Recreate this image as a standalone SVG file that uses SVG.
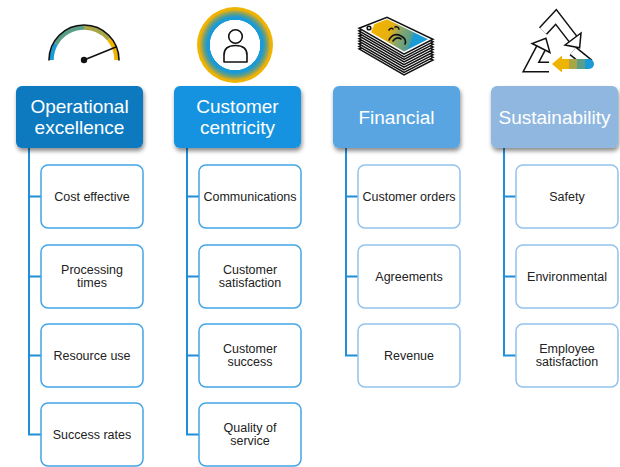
<svg xmlns="http://www.w3.org/2000/svg" width="620" height="467" viewBox="0 0 620 467">
  <defs>
    <style>
      .hdr { stroke: none; filter: url(#shadow); }
      .hdr-text { font-family: "Liberation Sans", Arial, sans-serif; font-size: 19px; fill: #ffffff; text-anchor: middle; }
      .box { fill: #ffffff; stroke-width: 1.5; }
      .box-a { stroke: #43a4e6; }
      .box-b { stroke: #93c2ec; }
      .box-text { font-family: "Liberation Sans", Arial, sans-serif; font-size: 12.5px; fill: #222222; text-anchor: middle; }
      .conn { fill: none; stroke: #1f8fd8; stroke-width: 2; }
      .ink { fill: none; stroke: #111111; stroke-width: 1.6; stroke-linejoin: round; stroke-linecap: round; }
      .band-out { fill: none; stroke: #111111; stroke-width: 11; stroke-linejoin: miter; }
      .band-in { fill: none; stroke: #ffffff; stroke-width: 8; stroke-linejoin: miter; }
      .head { fill: #ffffff; stroke: #111111; stroke-width: 1.5; stroke-linejoin: miter; }
    </style>
    <filter id="shadow" x="-10%" y="-10%" width="125%" height="135%">
      <feDropShadow dx="1" dy="3" stdDeviation="2" flood-color="#000000" flood-opacity="0.45"/>
    </filter>
    <radialGradient id="ringGrad" cx="0.5" cy="0.5" r="0.5">
      <stop offset="0" stop-color="#ffffff"/>
      <stop offset="0.655" stop-color="#ffffff"/>
      <stop offset="0.67" stop-color="#1a9ad6"/>
      <stop offset="0.73" stop-color="#1a9ad6"/>
      <stop offset="0.81" stop-color="#5a9e8a"/>
      <stop offset="0.88" stop-color="#a9a64a"/>
      <stop offset="0.94" stop-color="#f0b400"/>
      <stop offset="1" stop-color="#f0b400"/>
    </radialGradient>
    <linearGradient id="billGrad" gradientUnits="userSpaceOnUse" x1="364" y1="22" x2="428" y2="46">
      <stop offset="0" stop-color="#ffffff"/>
      <stop offset="0.14" stop-color="#ffffff"/>
      <stop offset="0.16" stop-color="#f0b400"/>
      <stop offset="0.4" stop-color="#e8b010"/>
      <stop offset="0.55" stop-color="#8aa66a"/>
      <stop offset="0.72" stop-color="#5a9e8a"/>
      <stop offset="0.76" stop-color="#1a9ad6"/>
      <stop offset="1" stop-color="#1a9ad6"/>
    </linearGradient>
  </defs>

  <rect width="620" height="467" fill="#ffffff"/>

  <!-- icon: speedometer -->
  <g id="icon-gauge">
    <path d="M51.5,60 A32.5,32.5 0 0 1 55.85,43.75" fill="none" stroke="#1a9ad6" stroke-width="4.5"/>
    <path d="M55.85,43.75 A32.5,32.5 0 0 1 84,27.5" fill="none" stroke="#5a9e8a" stroke-width="4.5"/>
    <path d="M84,27.5 A32.5,32.5 0 0 1 108.9,39.1" fill="none" stroke="#a9a64a" stroke-width="4.5"/>
    <path d="M108.9,39.1 A32.5,32.5 0 0 1 116.5,60" fill="none" stroke="#f0b400" stroke-width="4.5"/>
    <path d="M49,60 A35,35 0 0 1 119,60" class="ink"/>
    <line x1="84" y1="60" x2="116" y2="47" class="ink"/>
    <circle cx="84" cy="60" r="3.2" fill="#111111"/>
  </g>

  <!-- icon: customer -->
  <g id="icon-customer">
    <circle cx="235" cy="45" r="38" fill="url(#ringGrad)"/>
    <circle cx="235.5" cy="36.5" r="6.8" class="ink"/>
    <path d="M224,62 L224,55 Q224,45.5 235.5,45.5 Q247,45.5 247,55 L247,62 Z" class="ink"/>
  </g>

  <!-- icon: banknote stack -->
  <g id="icon-money">
    <path d="M359,49 L387,38 L433,60 L404,75 Z" class="head"/>
    <path d="M359,46.4 L387,35.4 L433,57.4 L404,72.4 Z" class="head"/>
    <path d="M359,43.8 L387,32.8 L433,54.8 L404,69.8 Z" class="head"/>
    <path d="M359,41.2 L387,30.2 L433,52.2 L404,67.2 Z" class="head"/>
    <path d="M359,38.6 L387,27.6 L433,49.6 L404,64.6 Z" class="head"/>
    <path d="M359,36 L387,25 L433,47 L404,62 Z" class="head"/>
    <path d="M359,33.4 L387,22.4 L433,44.4 L404,59.4 Z" class="head"/>
    <path d="M359,30.8 L387,19.8 L433,41.8 L404,56.8 Z" class="head"/>
    <path d="M359,28.2 L387,17.2 L433,39.2 L404,54.2 Z" class="head"/>
    <path d="M364,28.3 L387,19.3 L428,39.2 L404,51.5 Z" fill="url(#billGrad)"/>
    <circle cx="369" cy="28" r="1.8" class="ink" stroke-width="1.2"/>
    <path d="M389,30 q2,-3 4,-1 M395,27 q3,-1 4,2" class="ink" stroke-width="1.2"/>
    <path d="M389,40 q4,-8 12,-4 q6,3 4,8" class="ink" stroke-width="1.3"/>
    <path d="M393,41 q3,-5 8,-2" class="ink" stroke-width="1.2"/>
  </g>

  <!-- icon: recycling -->
  <g id="icon-recycle">
    <!-- top arrow -->
    <path d="M543,31 L556,17 L573,39" class="band-out"/>
    <path d="M543,31 L556,17 L573,39" class="band-in"/>
    <polygon points="581,33 565,45 579.6,47.8" class="head"/>
    <!-- right leg -->
    <path d="M573,51 L589,64" class="band-out"/>
    <path d="M573,51 L589,64" class="band-in"/>
    <!-- left arrow -->
    <path d="M549,67 L531,67 L541,48" class="band-out"/>
    <path d="M549,67 L531,67 L541,48" class="band-in"/>
    <polygon points="549.9,52.5 532.1,43.5 545.9,38.2" class="head"/>
    <!-- bottom coloured arrow -->
    <rect x="560" y="59" width="9" height="10" fill="#f0b400"/>
    <rect x="569" y="59" width="8" height="10" fill="#a9a64a"/>
    <rect x="577" y="59" width="8" height="10" fill="#5a9e8a"/>
    <path d="M585,59 L589,59 A5,5 0 0 1 589,69 L585,69 Z" fill="#1a9ad6"/>
    <polygon points="562,55.5 562,72.5 552,64" fill="#f0b400"/>
  </g>

  <!-- connectors -->
  <g id="connectors" class="conn">
    <path d="M29,148 V434.5 H41 M29,196.5 H41 M29,276.5 H41 M29,355.5 H41"/>
    <path d="M187,148 V434.5 H199 M187,196.5 H199 M187,276.5 H199 M187,355.5 H199"/>
    <path d="M346,148 V355.5 H358 M346,196.5 H358 M346,276.5 H358"/>
    <path d="M504,148 V355.5 H516 M504,196.5 H516 M504,276.5 H516"/>
  </g>

  <!-- column 1 -->
  <g id="operational-excellence">
    <rect x="16" y="86" width="127" height="62" rx="6" class="hdr" fill="#0b7ac0"/>
    <text x="79.5" y="113" class="hdr-text">Operational</text>
    <text x="79.5" y="134" class="hdr-text">excellence</text>
  </g>
  <g id="cost-effective">
    <rect x="41" y="165" width="102" height="63" rx="7" class="box box-a"/>
    <text x="92" y="201" class="box-text">Cost effective</text>
  </g>
  <g id="processing-times">
    <rect x="41" y="245" width="102" height="63" rx="7" class="box box-a"/>
    <text x="92" y="273.5" class="box-text">Processing</text>
    <text x="92" y="286.5" class="box-text">times</text>
  </g>
  <g id="resource-use">
    <rect x="41" y="324" width="102" height="63" rx="7" class="box box-a"/>
    <text x="92" y="360" class="box-text">Resource use</text>
  </g>
  <g id="success-rates">
    <rect x="41" y="403" width="102" height="63" rx="7" class="box box-a"/>
    <text x="92" y="439" class="box-text">Success rates</text>
  </g>

  <!-- column 2 -->
  <g id="customer-centricity">
    <rect x="174" y="86" width="127" height="62" rx="6" class="hdr" fill="#1893e0"/>
    <text x="237.5" y="113" class="hdr-text">Customer</text>
    <text x="237.5" y="134" class="hdr-text">centricity</text>
  </g>
  <g id="communications">
    <rect x="199" y="165" width="102" height="63" rx="7" class="box box-a"/>
    <text x="250" y="201" class="box-text">Communications</text>
  </g>
  <g id="customer-satisfaction">
    <rect x="199" y="245" width="102" height="63" rx="7" class="box box-a"/>
    <text x="250" y="273.5" class="box-text">Customer</text>
    <text x="250" y="286.5" class="box-text">satisfaction</text>
  </g>
  <g id="customer-success">
    <rect x="199" y="324" width="102" height="63" rx="7" class="box box-a"/>
    <text x="250" y="352.5" class="box-text">Customer</text>
    <text x="250" y="365.5" class="box-text">success</text>
  </g>
  <g id="quality-of-service">
    <rect x="199" y="403" width="102" height="63" rx="7" class="box box-a"/>
    <text x="250" y="431.5" class="box-text">Quality of</text>
    <text x="250" y="444.5" class="box-text">service</text>
  </g>

  <!-- column 3 -->
  <g id="financial">
    <rect x="333" y="86" width="127" height="62" rx="6" class="hdr" fill="#59a5e2"/>
    <text x="396.5" y="123.5" class="hdr-text">Financial</text>
  </g>
  <g id="customer-orders">
    <rect x="358" y="165" width="102" height="63" rx="7" class="box box-b"/>
    <text x="409" y="201" class="box-text">Customer orders</text>
  </g>
  <g id="agreements">
    <rect x="358" y="245" width="102" height="63" rx="7" class="box box-b"/>
    <text x="409" y="281" class="box-text">Agreements</text>
  </g>
  <g id="revenue">
    <rect x="358" y="324" width="102" height="63" rx="7" class="box box-b"/>
    <text x="409" y="360" class="box-text">Revenue</text>
  </g>

  <!-- column 4 -->
  <g id="sustainability">
    <rect x="491" y="86" width="127" height="62" rx="6" class="hdr" fill="#8fb7df"/>
    <text x="554.5" y="123.5" class="hdr-text">Sustainability</text>
  </g>
  <g id="safety">
    <rect x="516" y="165" width="102" height="63" rx="7" class="box box-b"/>
    <text x="567" y="201" class="box-text">Safety</text>
  </g>
  <g id="environmental">
    <rect x="516" y="245" width="102" height="63" rx="7" class="box box-b"/>
    <text x="567" y="281" class="box-text">Environmental</text>
  </g>
  <g id="employee-satisfaction">
    <rect x="516" y="324" width="102" height="63" rx="7" class="box box-b"/>
    <text x="567" y="352.5" class="box-text">Employee</text>
    <text x="567" y="365.5" class="box-text">satisfaction</text>
  </g>
</svg>
